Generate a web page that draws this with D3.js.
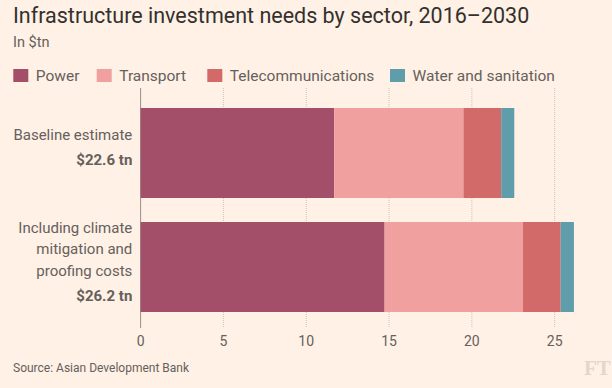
<!DOCTYPE html>
<html>
<head>
<meta charset="utf-8">
<script src="https://cdn.jsdelivr.net/npm/d3@7"></script>
<style>
  body { margin: 0; background: #fff1e5; }
  svg { display: block; }
  text { font-family: Roboto, "Open Sans", sans-serif; }
</style>
</head>
<body>
<div id="chart"></div>
<script>
// data
var categories = ["Baseline estimate", "Including climate mitigation and proofing costs"];
var labelLines = [["Baseline estimate"], ["Including climate", "mitigation and", "proofing costs"]];
var totalLabels = ["$22.6 tn", "$26.2 tn"];
var sectors = ["Power", "Transport", "Telecommunications", "Water and sanitation"];
var power = [11.69, 14.73];
var transport = [7.80, 8.35];
var telecom = [2.28, 2.28];
var water = [0.79, 0.80];
var tickValues = [0, 5, 10, 15, 20, 25];

var colors = ["#a34f69", "#f0a09f", "#d36a6a", "#5f9dab"];

var width = 612, height = 388;

var svg = d3.select("#chart")
  .append("svg")
  .attr("width", width)
  .attr("height", height);

svg.append("rect")
  .attr("width", width)
  .attr("height", height)
  .attr("fill", "#fff1e5");

// title + subtitle
svg.append("text")
  .attr("x", 13)
  .attr("y", 22.7)
  .attr("fill", "#33302e")
  .style("font-size", "21.5px")
  .text("Infrastructure investment needs by sector, 2016\u20132030");

svg.append("text")
  .attr("x", 13)
  .attr("y", 47.3)
  .attr("fill", "#66605c")
  .style("font-size", "14.5px")
  .text("In $tn");

// legend
var legendX = [13.3, 96.7, 207.3, 390];
var legend = svg.selectAll(".legend")
  .data(sectors)
  .enter()
  .append("g")
  .attr("class", "legend")
  .attr("transform", function(d, i) { return "translate(" + legendX[i] + ",69)"; });

legend.append("rect")
  .attr("width", 15)
  .attr("height", 13)
  .attr("fill", function(d, i) { return colors[i]; });

legend.append("text")
  .attr("x", 22.5)
  .attr("y", 12)
  .attr("fill", "#66605c")
  .style("font-size", "15.5px")
  .text(function(d) { return d; });

// scales
var x = d3.scaleLinear()
  .domain([0, 25])
  .range([140.6, 554.7]);

var y = d3.scaleBand()
  .domain(categories)
  .range([108, 312])
  .paddingInner(24 / 114)
  .paddingOuter(0);

// gridlines
svg.selectAll(".grid")
  .data(tickValues.slice(1))
  .enter()
  .append("line")
  .attr("class", "grid")
  .attr("x1", function(d) { return x(d); })
  .attr("x2", function(d) { return x(d); })
  .attr("y1", 88)
  .attr("y2", 327)
  .attr("stroke", "#cfc3b8")
  .attr("stroke-width", 1)
  .attr("stroke-dasharray", "1,1");

svg.append("line")
  .attr("x1", x(0))
  .attr("x2", x(0))
  .attr("y1", 88)
  .attr("y2", 328)
  .attr("stroke", "#9a9088")
  .attr("stroke-width", 1);

// stacked bars
var rows = categories.map(function(c, i) {
  return { cat: c, Power: power[i], Transport: transport[i], Telecommunications: telecom[i], "Water and sanitation": water[i] };
});
var stacked = d3.stack().keys(sectors)(rows);

svg.selectAll(".series")
  .data(stacked)
  .enter()
  .append("g")
  .attr("class", "series")
  .attr("fill", function(d, i) { return colors[i]; })
  .selectAll("rect")
  .data(function(d) { return d; })
  .enter()
  .append("rect")
  .attr("x", function(d) { return x(d[0]); })
  .attr("width", function(d) { return x(d[1]) - x(d[0]); })
  .attr("y", function(d) { return y(d.data.cat); })
  .attr("height", y.bandwidth());

// category labels, right aligned to the left of the bars
categories.forEach(function(c, i) {
  var lines = labelLines[i];
  var total = (lines.length - 1) * 21.5 + 25;
  var mid = y(c) + y.bandwidth() / 2;
  var first = mid - total / 2 - 0.5;
  var g = svg.append("g");
  lines.forEach(function(line, j) {
    g.append("text")
      .attr("x", 132.3)
      .attr("y", first + j * 21.5)
      .attr("text-anchor", "end")
      .attr("fill", "#66605c")
      .style("font-size", "15px")
      .text(line);
  });
  g.append("text")
    .attr("x", 132.3)
    .attr("y", first + (lines.length - 1) * 21.5 + 25)
    .attr("text-anchor", "end")
    .attr("fill", "#66605c")
    .style("font-size", "15px")
    .style("font-weight", "bold")
    .text(totalLabels[i]);
});

// x axis tick labels
svg.selectAll(".tick-label")
  .data(tickValues)
  .enter()
  .append("text")
  .attr("class", "tick-label")
  .attr("x", function(d) { return x(d); })
  .attr("y", 345.7)
  .attr("text-anchor", "middle")
  .attr("fill", "#66605c")
  .style("font-size", "14px")
  .text(function(d) { return d; });

// source
svg.append("text")
  .attr("x", 13)
  .attr("y", 371.7)
  .attr("fill", "#66605c")
  .style("font-size", "12px")
  .text("Source: Asian Development Bank");

// FT logo
svg.append("text")
  .attr("x", 584)
  .attr("y", 374.5)
  .attr("fill", "#e3d7cc")
  .style("font-family", "'Liberation Serif', 'DejaVu Serif', serif")
  .style("font-size", "21px")
  .style("font-weight", "bold")
  .text("FT");
</script>
</body>
</html>
